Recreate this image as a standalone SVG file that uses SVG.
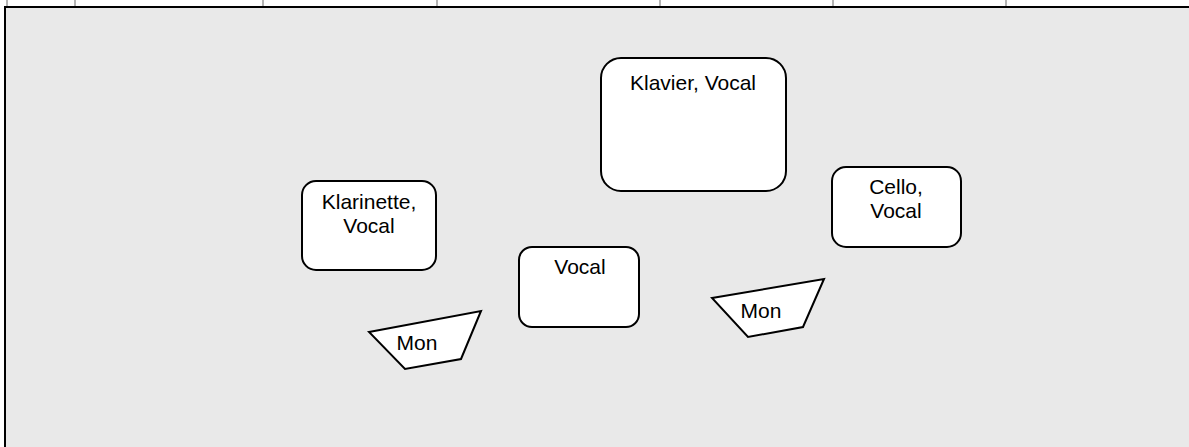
<svg xmlns="http://www.w3.org/2000/svg" width="1189" height="447" viewBox="0 0 1189 447">
<style>
.grid{stroke:#b4b4b4;stroke-width:2}
.node{fill:#ffffff;stroke:#000000;stroke-width:2}
.lbl{font-family:"Liberation Sans",Arial,sans-serif;font-size:21px;fill:#000000;text-anchor:middle}
</style>
<rect x="0" y="0" width="1189" height="447" fill="#ffffff"/>
<g id="header">
<line class="grid" x1="7" y1="0" x2="7" y2="7"/>
<line class="grid" x1="75" y1="0" x2="75" y2="7"/>
<line class="grid" x1="263" y1="0" x2="263" y2="7"/>
<line class="grid" x1="437" y1="0" x2="437" y2="7"/>
<line class="grid" x1="660" y1="0" x2="660" y2="7"/>
<line class="grid" x1="833" y1="0" x2="833" y2="7"/>
<line class="grid" x1="1006" y1="0" x2="1006" y2="7"/>
</g>
<g id="stage">
<rect x="5" y="7" width="1200" height="460" fill="#e9e9e9" stroke="#000000" stroke-width="2"/>
</g>
<g id="connectors"></g>
<g id="klavier">
<rect class="node" x="601" y="58" width="185" height="133" rx="20" ry="20"/>
<text class="lbl" x="693" y="90">Klavier, Vocal</text>
</g>
<g id="klarinette">
<rect class="node" x="302" y="181" width="134" height="89" rx="14" ry="14"/>
<text class="lbl" x="369" y="209">Klarinette,</text>
<text class="lbl" x="369" y="233">Vocal</text>
</g>
<g id="cello">
<rect class="node" x="832" y="167" width="129" height="80" rx="14" ry="14"/>
<text class="lbl" x="896" y="194">Cello,</text>
<text class="lbl" x="896" y="218">Vocal</text>
</g>
<g id="vocal">
<rect class="node" x="519" y="247" width="120" height="80" rx="13" ry="13"/>
<text class="lbl" x="580" y="274">Vocal</text>
</g>
<g id="mon-left">
<polygon class="node" points="369,332 481,311 461,359 405,369"/>
<text class="lbl" x="417" y="350">Mon</text>
</g>
<g id="mon-right">
<polygon class="node" points="712,298 824,279 803,327 748,337"/>
<text class="lbl" x="761" y="318">Mon</text>
</g>
</svg>
